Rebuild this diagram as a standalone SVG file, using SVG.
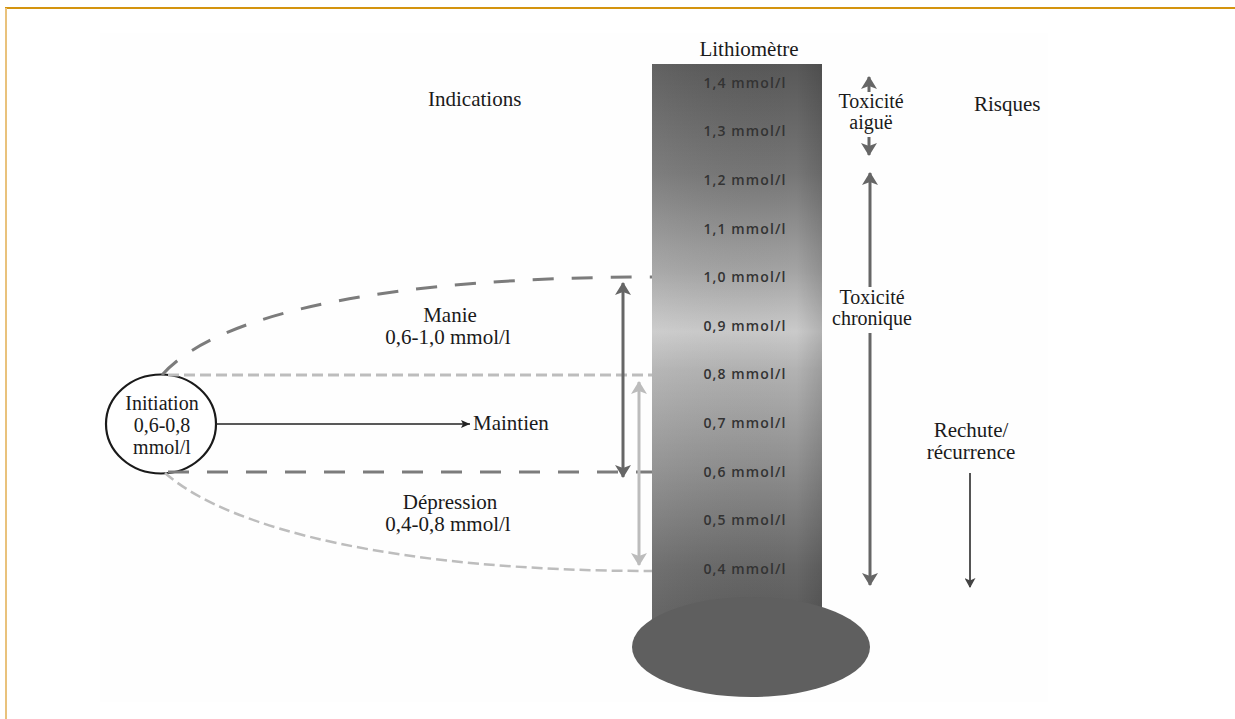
<svg xmlns="http://www.w3.org/2000/svg" width="1235" height="719" viewBox="0 0 1235 719">
  <style>
    .serif { font-family: "Liberation Serif", "Times New Roman", serif; font-size: 21px; fill: #1a1a1a; }
    .tight { font-size: 20px; }
    .mid { text-anchor: middle; }
    .scale { font-family: "Open Sans", "DejaVu Sans", sans-serif; font-size: 14px; font-weight: 600; fill: #333333; text-anchor: middle; letter-spacing: 1.1px; }
    .dash-dark { fill: none; stroke: #7c7c7c; stroke-width: 3; stroke-dasharray: 21 18; }
    .dash-light { fill: none; stroke: #bdbdbd; stroke-width: 3; stroke-dasharray: 11 5; }
    .arrow-dark { stroke: #666666; stroke-width: 3; fill: none; }
    .arrow-light { stroke: #bcbcbc; stroke-width: 3; fill: none; }
  </style>
  <defs>
    <linearGradient id="tubeFill" x1="0" y1="64" x2="0" y2="610" gradientUnits="userSpaceOnUse">
      <stop offset="0" stop-color="#585858"/>
      <stop offset="0.2" stop-color="#767676"/>
      <stop offset="0.38" stop-color="#a4a4a4"/>
      <stop offset="0.49" stop-color="#cacaca"/>
      <stop offset="0.56" stop-color="#b2b2b2"/>
      <stop offset="0.75" stop-color="#8c8c8c"/>
      <stop offset="0.92" stop-color="#686868"/>
      <stop offset="1" stop-color="#5e5e5e"/>
    </linearGradient>
    <linearGradient id="tubeSide" x1="652" y1="0" x2="822" y2="0" gradientUnits="userSpaceOnUse">
      <stop offset="0" stop-color="#ffffff" stop-opacity="0.06"/>
      <stop offset="0.85" stop-color="#000000" stop-opacity="0"/>
      <stop offset="1" stop-color="#000000" stop-opacity="0.12"/>
    </linearGradient>
    <marker id="headDark" viewBox="0 0 13 16" refX="12" refY="8" markerWidth="13" markerHeight="16" markerUnits="userSpaceOnUse" orient="auto-start-reverse">
      <path d="M0,0 L13,8 L0,16 L3,8 z" fill="#666666"/>
    </marker>
    <marker id="headLight" viewBox="0 0 13 16" refX="12" refY="8" markerWidth="13" markerHeight="16" markerUnits="userSpaceOnUse" orient="auto-start-reverse">
      <path d="M0,0 L13,8 L0,16 L3,8 z" fill="#bcbcbc"/>
    </marker>
    <marker id="headSmall" viewBox="0 0 10 11" refX="9" refY="5.5" markerWidth="10" markerHeight="11" markerUnits="userSpaceOnUse" orient="auto">
      <path d="M0,0 L10,5.5 L0,11 L2.5,5.5 z" fill="#444444"/>
    </marker>
    <marker id="headThin" viewBox="0 0 9 8" refX="9" refY="4" markerWidth="9" markerHeight="8" markerUnits="userSpaceOnUse" orient="auto">
      <path d="M0,0 L9,4 L0,8 L2,4 z" fill="#222222"/>
    </marker>
  </defs>

  <!-- page frame -->
  <rect x="0" y="0" width="1235" height="719" fill="#ffffff"/>
  <rect x="100" y="33" width="948" height="669" fill="#fefefe"/>
  <line x1="5" y1="8" x2="1235" y2="8" stroke="#d4940e" stroke-width="2"/>
  <line x1="6" y1="8" x2="6" y2="719" stroke="#e9c27c" stroke-width="2"/>

  <!-- lithium meter -->
  <g id="lithiometre">
    <rect x="652" y="64" width="170" height="556" fill="url(#tubeFill)"/>
    <rect x="652" y="64" width="170" height="556" fill="url(#tubeSide)"/>
    <ellipse cx="751" cy="647" rx="119" ry="50" fill="#5f5f5f"/>
    <text class="serif mid" x="749" y="56">Lithiomètre</text>
    <text class="scale" x="745" y="88">1,4 mmol/l</text>
    <text class="scale" x="745" y="136">1,3 mmol/l</text>
    <text class="scale" x="745" y="185">1,2 mmol/l</text>
    <text class="scale" x="745" y="234">1,1 mmol/l</text>
    <text class="scale" x="745" y="282">1,0 mmol/l</text>
    <text class="scale" x="745" y="331">0,9 mmol/l</text>
    <text class="scale" x="745" y="379">0,8 mmol/l</text>
    <text class="scale" x="745" y="428">0,7 mmol/l</text>
    <text class="scale" x="745" y="477">0,6 mmol/l</text>
    <text class="scale" x="745" y="525">0,5 mmol/l</text>
    <text class="scale" x="745" y="574">0,4 mmol/l</text>
  </g>

  <!-- column headings -->
  <g id="indications">
    <text class="serif" x="428" y="106">Indications</text>
  </g>
  <g id="risques">
    <text class="serif" x="974" y="111">Risques</text>
  </g>

  <!-- initiation node -->
  <g id="initiation">
    <ellipse cx="161" cy="424" rx="55" ry="49.5" fill="#ffffff" stroke="#1a1a1a" stroke-width="2.2"/>
    <text class="serif tight mid" x="162" y="410">Initiation</text>
    <text class="serif tight mid" x="162" y="432">0,6-0,8</text>
    <text class="serif tight mid" x="162" y="454">mmol/l</text>
  </g>

  <g id="maintien">
    <text class="serif" x="473" y="430">Maintien</text>
  </g>

  <g id="manie">
    <text class="serif mid" x="450" y="322">Manie</text>
    <text class="serif mid" x="448" y="344">0,6-1,0 mmol/l</text>
  </g>

  <g id="depression">
    <text class="serif mid" x="450" y="509">Dépression</text>
    <text class="serif mid" x="448" y="531">0,4-0,8 mmol/l</text>
  </g>

  <g id="toxicite-aigue">
    <text class="serif tight mid" x="871" y="108">Toxicité</text>
    <text class="serif tight mid" x="871" y="129">aiguë</text>
  </g>

  <g id="toxicite-chronique">
    <text class="serif tight mid" x="872" y="304">Toxicité</text>
    <text class="serif tight mid" x="872" y="325">chronique</text>
  </g>

  <g id="rechute">
    <text class="serif mid" x="971" y="437">Rechute/</text>
    <text class="serif mid" x="971" y="459">récurrence</text>
  </g>

  <!-- connectors -->
  <g id="connectors">
    <!-- range boundaries -->
    <path class="dash-dark" d="M162,375 C220,310 400,277 652,277"/>
    <line class="dash-light" x1="168" y1="375" x2="652" y2="375"/>
    <line class="dash-dark" x1="168" y1="472" x2="652" y2="472"/>
    <path class="dash-light" style="stroke-width:2.5" d="M165,473 C230,530 400,571 652,571"/>

    <!-- initiation to maintenance -->
    <line x1="216" y1="424" x2="470" y2="424" stroke="#222222" stroke-width="1.3" marker-end="url(#headThin)"/>

    <!-- indication ranges -->
    <line class="arrow-dark" x1="623" y1="283" x2="623" y2="477" marker-start="url(#headDark)" marker-end="url(#headDark)"/>
    <line class="arrow-light" x1="639" y1="382" x2="639" y2="565" marker-start="url(#headLight)" marker-end="url(#headLight)"/>

    <!-- risk ranges -->
    <line class="arrow-dark" x1="869" y1="92" x2="869" y2="77" marker-end="url(#headDark)"/>
    <line class="arrow-dark" x1="869" y1="137" x2="869" y2="155" marker-end="url(#headDark)"/>
    <line class="arrow-dark" x1="870" y1="287" x2="870" y2="173" marker-end="url(#headDark)"/>
    <line class="arrow-dark" x1="870" y1="333" x2="870" y2="585" marker-end="url(#headDark)"/>
    <line x1="970" y1="473" x2="970" y2="587" stroke="#555555" stroke-width="2" marker-end="url(#headSmall)"/>
  </g>
</svg>
